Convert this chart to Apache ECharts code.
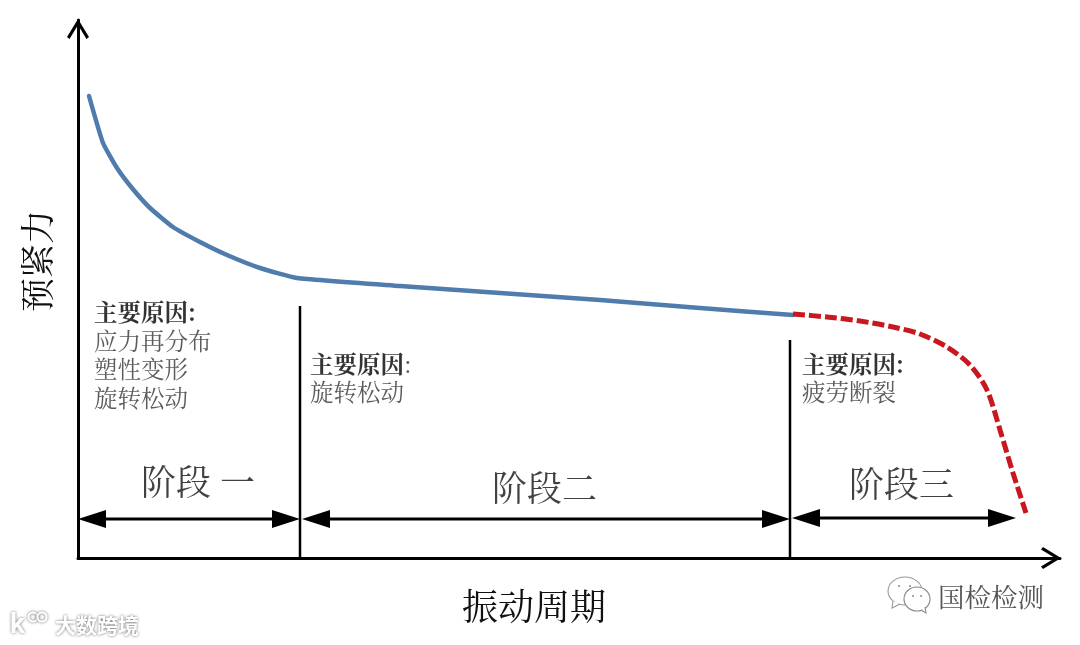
<!DOCTYPE html>
<html>
<head>
<meta charset="utf-8">
<style>
  html, body { margin: 0; padding: 0; background: #fff; }
  #chart { width: 1080px; height: 645px; }
</style>
<script src="https://cdn.jsdelivr.net/npm/echarts@6/dist/echarts.min.js"></script>
</head>
<body>
<div id="chart"></div>
<script>
// values (axis units, no scale printed in the original)
const blueX = [11, 25, 39, 54, 72, 95, 122, 149, 182, 219, 322, 422, 522, 622, 715];
const blueY = [462, 415, 390, 370, 350, 331, 316, 303, 290, 280, 272, 265, 258, 250, 243];
const redX = [715, 749, 782, 815, 842, 869, 892, 909, 922, 935, 948];
const redY = [244, 241, 237, 231, 224, 211, 193, 168, 128, 85, 45];

const stageDividerX = [222, 712];
const stageDividerTop = [252, 218];
const arrowFrom = [0, 224, 714];
const arrowTo = [222, 712, 938];
const arrowY = [39, 39, 40];

const stageNames = ["阶段 一", "阶段二", "阶段三"];
const stageX = [63, 414, 771];
const stageY = [76, 70, 74];

const noteTitles = ["主要原因", "主要原因", "主要原因"];
const noteColonStyle = ["b", "n", "b"];
const noteLines = [["应力再分布", "塑性变形", "旋转松动"], ["旋转松动"], ["疲劳断裂"]];
const noteX = [16, 232, 724];
const noteY = [203, 180, 180];

const xName = "振动周期";
const yName = "预紧力";

const serifFont = '"Noto Serif CJK SC", "Noto Sans CJK SC", serif';
const chevron = "path://M0,18 L11,0 L22,18 L19.5,20 L11,6 L2.5,20 Z";

const myChart = echarts.init(document.getElementById("chart"), null, { renderer: "canvas" });

const zipXY = (xs, ys) => xs.map((x, i) => [x, ys[i]]);

const axisBase = {
  type: "value",
  min: 0,
  axisTick: { show: false },
  axisLabel: { show: false },
  splitLine: { show: false },
  nameLocation: "middle",
};

const axisLineStyle = {
  symbol: ["none", chevron],
  symbolSize: [22, 20],
  symbolOffset: [0, -9],
  lineStyle: { color: "#000", width: 3 },
};

const option = {
  backgroundColor: "#fff",
  animation: false,
  grid: { left: 78, right: 20, top: 20, bottom: 87 },
  xAxis: {
    ...axisBase,
    max: 982,
    name: xName,
    nameGap: 30,
    nameTextStyle: { fontFamily: serifFont, fontSize: 36, color: "#111", padding: [0, 70, 0, 0] },
    axisLine: axisLineStyle,
  },
  yAxis: {
    ...axisBase,
    max: 538,
    name: yName,
    nameGap: 24,
    nameRotate: 90,
    nameTextStyle: { fontFamily: serifFont, fontSize: 34, color: "#111", padding: [0, 0, 0, 56] },
    axisLine: axisLineStyle,
  },
  series: [
    {
      name: "blue",
      type: "line",
      smooth: 0.15,
      data: zipXY(blueX, blueY),
      showSymbol: false,
      lineStyle: { color: "#4f7cac", width: 4.5, cap: "round", join: "round" },
      z: 3,
    },
    {
      name: "red",
      type: "line",
      smooth: 0.3,
      data: zipXY(redX, redY),
      showSymbol: false,
      lineStyle: { color: "#c8171e", width: 5, type: [12, 4] },
      z: 4,
    },
    ...stageDividerX.map((x, i) => ({
      name: "divider" + i,
      type: "line",
      data: [[x, 0], [x, stageDividerTop[i]]],
      showSymbol: false,
      lineStyle: { color: "#000", width: 2.5 },
      z: 2,
    })),
    {
      name: "arrows",
      type: "custom",
      data: arrowFrom.map((x, i) => [x, arrowTo[i], arrowY[i]]),
      renderItem: (params, api) => {
        const a = api.coord([api.value(0), api.value(2)]);
        const b = api.coord([api.value(1), api.value(2)]);
        const headLen = 28;
        const headHalf = 9;
        return {
          type: "group",
          children: [
            {
              type: "line",
              shape: { x1: a[0] + headLen, y1: a[1], x2: b[0] - headLen, y2: b[1] },
              style: { stroke: "#000", lineWidth: 3 },
            },
            {
              type: "polygon",
              shape: { points: [[a[0], a[1]], [a[0] + headLen, a[1] - headHalf], [a[0] + headLen, a[1] + headHalf]] },
              style: { fill: "#000" },
            },
            {
              type: "polygon",
              shape: { points: [[b[0], b[1]], [b[0] - headLen, b[1] - headHalf], [b[0] - headLen, b[1] + headHalf]] },
              style: { fill: "#000" },
            },
          ],
        };
      },
      z: 5,
    },
    {
      name: "stages",
      type: "scatter",
      symbolSize: 0,
      data: stageNames.map((n, i) => ({ name: n, value: [stageX[i], stageY[i]] })),
      label: {
        show: true,
        position: "right",
        distance: 0,
        formatter: (p) => p.name,
        fontFamily: serifFont,
        fontSize: 35,
        color: "#111",
      },
    },
    {
      name: "notes",
      type: "scatter",
      symbolSize: 0,
      data: noteTitles.map((t, i) => ({
        name: t,
        value: [noteX[i], noteY[i]],
        label: {
          formatter: ["{b|" + t + "}{" + noteColonStyle[i] + "|:}"]
            .concat(noteLines[i].map((l) => "{n|" + l + "}"))
            .join("\n"),
        },
      })),
      label: {
        show: true,
        position: "right",
        distance: 0,
        rich: {
          b: { fontFamily: serifFont, fontSize: 23.5, fontWeight: "bold", color: "#000", lineHeight: 28.5 },
          n: { fontFamily: serifFont, fontSize: 23.5, color: "#333", lineHeight: 28.5 },
        },
      },
    },
  ],
  // image watermarks of the original
  graphic: [
    {
      type: "text", x: 938, y: 584,
      style: { text: "国检检测", fontFamily: serifFont, fontSize: 26.5, fill: "#555" },
    },
    {
      type: "text", x: 55, y: 615,
      style: {
        text: "大数跨境", fontFamily: '"Noto Sans CJK SC"', fontSize: 21, fontWeight: "bold", fill: "#fff",
        textShadowColor: "rgba(0,0,0,0.6)", textShadowBlur: 3,
      },
    },
    {
      type: "text", x: 10, y: 612,
      style: {
        text: "k", fontFamily: "Roboto", fontSize: 28, fontWeight: "bold", fill: "#fff",
        textShadowColor: "rgba(0,0,0,0.6)", textShadowBlur: 3,
      },
    },
    ...[[33, 617], [42, 617]].map((c) => ({
      type: "circle", shape: { cx: c[0], cy: c[1], r: 4.5 },
      style: { fill: "none", stroke: "#fff", lineWidth: 2, shadowColor: "rgba(0,0,0,0.6)", shadowBlur: 3 },
    })),
    // wechat bubbles
    {
      type: "ellipse", shape: { cx: 905, cy: 591, rx: 17, ry: 14 },
      style: { fill: "#fff", stroke: "#999", lineWidth: 1.1 },
    },
    {
      type: "polyline", shape: { points: [[893, 601], [892, 608], [900, 604]] },
      style: { fill: "#fff", stroke: "#999", lineWidth: 1.1 },
    },
    {
      type: "ellipse", shape: { cx: 917, cy: 599, rx: 13, ry: 12 },
      style: { fill: "#fff", stroke: "#888", lineWidth: 1.1 },
    },
    {
      type: "polyline", shape: { points: [[921, 610], [926, 613], [925, 607]] },
      style: { fill: "#fff", stroke: "#888", lineWidth: 1.1 },
    },
    ...[[899, 586], [910, 586], [913, 596], [921, 596]].map((c) => ({
      type: "circle", shape: { cx: c[0], cy: c[1], r: 1 },
      style: { fill: "#888" },
    })),
  ],
};

myChart.setOption(option);
</script>
</body>
</html>
